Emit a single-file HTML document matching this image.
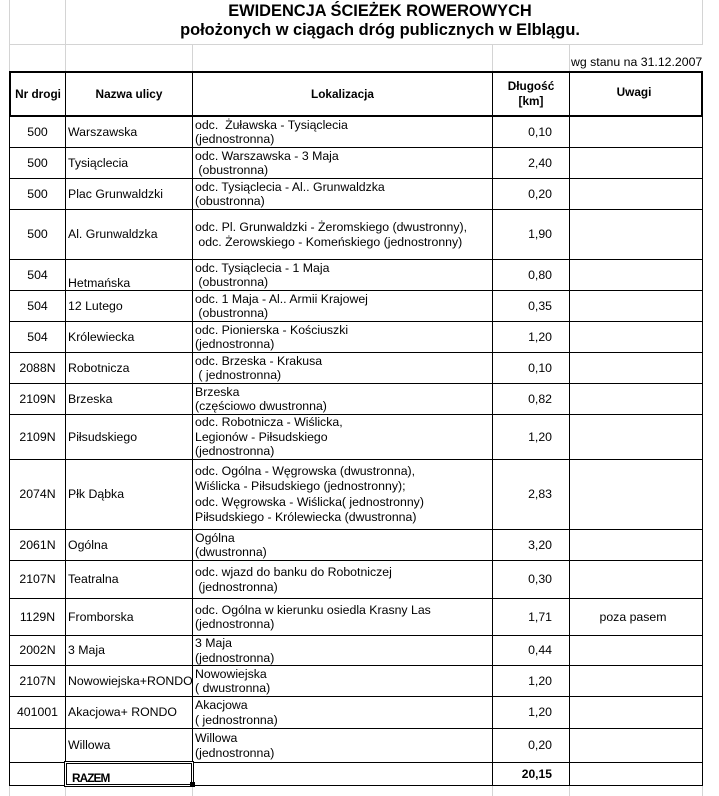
<!DOCTYPE html>
<html><head><meta charset="utf-8">
<style>
html,body{margin:0;padding:0;background:#fff;}
body{width:719px;height:796px;position:relative;overflow:hidden;font-family:"Liberation Sans",Arial,sans-serif;color:#000;}
.g{position:absolute;background:#d4d4d4;}
.k{position:absolute;background:#000;}
.t{position:absolute;white-space:pre;font-weight:bold;font-size:16.4px;line-height:19px;text-align:center;}
.r{position:absolute;left:0;width:719px;}
.r>div{position:absolute;top:0;bottom:0;display:flex;align-items:center;overflow:hidden;white-space:pre;font-size:12.3px;line-height:14.5px;}
.n{left:10px;width:55px;justify-content:center;}
.s{left:66px;width:124px;padding-left:2px;}
.l{left:193px;width:297px;padding-left:2px;}
.d{left:493px;width:59px;justify-content:flex-end;}
.u{left:570px;width:126px;justify-content:center;}
.h>div{font-weight:bold;font-size:11.8px;text-align:center;line-height:15px;}
</style></head><body>

<!-- gray sheet gridlines -->
<div class="g" style="left:9px;top:0;width:1px;height:72px"></div>
<div class="g" style="left:65px;top:0;width:1px;height:72px"></div>
<div class="g" style="left:192px;top:44px;width:1px;height:28px"></div>
<div class="g" style="left:492px;top:44px;width:1px;height:28px"></div>
<div class="g" style="left:569px;top:44px;width:1px;height:28px"></div>
<div class="g" style="left:702px;top:0;width:1px;height:44px"></div>
<div class="g" style="left:9px;top:44px;width:694px;height:1px"></div>
<div class="g" style="left:9px;top:786px;width:1px;height:10px"></div>
<div class="g" style="left:65px;top:786px;width:1px;height:10px"></div>
<div class="g" style="left:192px;top:786px;width:1px;height:10px"></div>
<div class="g" style="left:492px;top:786px;width:1px;height:10px"></div>
<div class="g" style="left:569px;top:786px;width:1px;height:10px"></div>
<div class="g" style="left:702px;top:786px;width:1px;height:10px"></div>

<!-- titles -->
<div class="t" style="left:65px;width:630px;top:2px">EWIDENCJA ŚCIEŻEK ROWEROWYCH</div>
<div class="t" style="left:65px;width:630px;top:21px">położonych w ciągach dróg publicznych w Elblągu.</div>
<div style="position:absolute;left:571px;top:55px;font-size:12.3px;line-height:15px;white-space:pre">wg stanu na 31.12.2007</div>

<!-- header box lines -->
<div class="k" style="left:9px;top:71px;width:694px;height:2px"></div>
<div class="k" style="left:9px;top:115px;width:694px;height:2px"></div>
<div class="k" style="left:9px;top:71px;width:2px;height:46px"></div>
<div class="k" style="left:701px;top:71px;width:2px;height:46px"></div>
<!-- vertical lines -->
<div class="k" style="left:9px;top:117px;width:1px;height:669px"></div>
<div class="k" style="left:65px;top:71px;width:1px;height:715px"></div>
<div class="k" style="left:192px;top:71px;width:1px;height:715px"></div>
<div class="k" style="left:492px;top:71px;width:1px;height:715px"></div>
<div class="k" style="left:569px;top:71px;width:1px;height:715px"></div>
<div class="k" style="left:702px;top:117px;width:1px;height:669px"></div>
<!-- horizontal lines -->
<div class="k" style="left:9px;top:147px;width:694px;height:1px"></div>
<div class="k" style="left:9px;top:178px;width:694px;height:1px"></div>
<div class="k" style="left:9px;top:209px;width:694px;height:1px"></div>
<div class="k" style="left:9px;top:259px;width:694px;height:1px"></div>
<div class="k" style="left:9px;top:290px;width:694px;height:1px"></div>
<div class="k" style="left:9px;top:321px;width:694px;height:1px"></div>
<div class="k" style="left:9px;top:352px;width:694px;height:1px"></div>
<div class="k" style="left:9px;top:383px;width:694px;height:1px"></div>
<div class="k" style="left:9px;top:414px;width:694px;height:1px"></div>
<div class="k" style="left:9px;top:459px;width:694px;height:1px"></div>
<div class="k" style="left:9px;top:529px;width:694px;height:1px"></div>
<div class="k" style="left:9px;top:560px;width:694px;height:1px"></div>
<div class="k" style="left:9px;top:598px;width:694px;height:1px"></div>
<div class="k" style="left:9px;top:635px;width:694px;height:1px"></div>
<div class="k" style="left:9px;top:665px;width:694px;height:1px"></div>
<div class="k" style="left:9px;top:696px;width:694px;height:1px"></div>
<div class="k" style="left:9px;top:728px;width:694px;height:1px"></div>
<div class="k" style="left:9px;top:762px;width:694px;height:1px"></div>
<div class="k" style="left:9px;top:785px;width:694px;height:1px"></div>

<!-- header -->
<div class="r h" style="top:73px;height:42px">
  <div class="n" style="left:11px;width:54px">Nr drogi</div>
  <div class="s" style="justify-content:center;padding-left:0;width:126px">Nazwa ulicy</div>
  <div class="l" style="justify-content:center;padding-left:0;width:299px">Lokalizacja</div>
  <div class="d" style="justify-content:center;width:76px">Długość<br>[km]</div>
  <div class="u" style="width:128px;top:-3px">Uwagi</div>
</div>

<div class="r" style="top:117px;height:30px"><div class="n">500</div><div class="s">Warszawska</div><div class="l">odc.  Żuławska - Tysiąclecia
(jednostronna)</div><div class="d">0,10</div></div>
<div class="r" style="top:148px;height:30px"><div class="n">500</div><div class="s">Tysiąclecia</div><div class="l">odc. Warszawska - 3 Maja
 (obustronna)</div><div class="d">2,40</div></div>
<div class="r" style="top:179px;height:30px"><div class="n">500</div><div class="s">Plac Grunwaldzki</div><div class="l">odc. Tysiąclecia - Al.. Grunwaldzka
(obustronna)</div><div class="d">0,20</div></div>
<div class="r" style="top:210px;height:49px"><div class="n">500</div><div class="s">Al. Grunwaldzka</div><div class="l">odc. Pl. Grunwaldzki - Żeromskiego (dwustronny),
 odc. Żerowskiego - Komeńskiego (jednostronny)</div><div class="d">1,90</div></div>
<div class="r" style="top:260px;height:30px"><div class="n">504</div><div class="s" style="align-items:flex-end">Hetmańska</div><div class="l">odc. Tysiąclecia - 1 Maja
 (obustronna)</div><div class="d">0,80</div></div>
<div class="r" style="top:291px;height:30px"><div class="n">504</div><div class="s">12 Lutego</div><div class="l">odc. 1 Maja - Al.. Armii Krajowej
 (obustronna)</div><div class="d">0,35</div></div>
<div class="r" style="top:322px;height:30px"><div class="n">504</div><div class="s">Królewiecka</div><div class="l">odc. Pionierska - Kościuszki
(jednostronna)</div><div class="d">1,20</div></div>
<div class="r" style="top:353px;height:30px"><div class="n">2088N</div><div class="s">Robotnicza</div><div class="l">odc. Brzeska - Krakusa
 ( jednostronna)</div><div class="d">0,10</div></div>
<div class="r" style="top:384px;height:30px"><div class="n">2109N</div><div class="s">Brzeska</div><div class="l">Brzeska
(częściowo dwustronna)</div><div class="d">0,82</div></div>
<div class="r" style="top:415px;height:44px"><div class="n">2109N</div><div class="s">Piłsudskiego</div><div class="l">odc. Robotnicza - Wiślicka,
Legionów - Piłsudskiego
(jednostronna)</div><div class="d">1,20</div></div>
<div class="r" style="top:460px;height:69px"><div class="n">2074N</div><div class="s">Płk Dąbka</div><div class="l" style="line-height:15.2px">odc. Ogólna - Węgrowska (dwustronna),
Wiślicka - Piłsudskiego (jednostronny);
odc. Węgrowska - Wiślicka( jednostronny)
Piłsudskiego - Królewiecka (dwustronna)</div><div class="d">2,83</div></div>
<div class="r" style="top:530px;height:30px"><div class="n">2061N</div><div class="s">Ogólna</div><div class="l">Ogólna
(dwustronna)</div><div class="d">3,20</div></div>
<div class="r" style="top:561px;height:37px"><div class="n">2107N</div><div class="s">Teatralna</div><div class="l">odc. wjazd do banku do Robotniczej
 (jednostronna)</div><div class="d">0,30</div></div>
<div class="r" style="top:599px;height:36px"><div class="n">1129N</div><div class="s">Fromborska</div><div class="l">odc. Ogólna w kierunku osiedla Krasny Las
(jednostronna)</div><div class="d">1,71</div><div class="u">poza pasem</div></div>
<div class="r" style="top:636px;height:29px"><div class="n">2002N</div><div class="s">3 Maja</div><div class="l">3 Maja
(jednostronna)</div><div class="d">0,44</div></div>
<div class="r" style="top:666px;height:30px"><div class="n">2107N</div><div class="s">Nowowiejska+RONDO</div><div class="l">Nowowiejska
( dwustronna)</div><div class="d">1,20</div></div>
<div class="r" style="top:697px;height:31px"><div class="n">401001</div><div class="s">Akacjowa+ RONDO</div><div class="l">Akacjowa
( jednostronna)</div><div class="d">1,20</div></div>
<div class="r" style="top:729px;height:33px"><div class="n"></div><div class="s">Willowa</div><div class="l">Willowa
(jednostronna)</div><div class="d">0,20</div></div>
<div class="r" style="top:763px;height:22px"><div class="s" style="align-items:flex-end;padding-left:6px;width:120px;font-weight:bold;font-size:11.8px;line-height:14px;letter-spacing:-0.9px">RAZEM</div><div class="d" style="font-weight:bold;font-size:12.1px">20,15</div></div>

<!-- selection box -->
<div style="position:absolute;left:64px;top:761px;width:130px;height:26px;box-sizing:border-box;border:1px solid #000;box-shadow:inset 0 0 0 1px #fff;">
  <div style="position:absolute;left:1px;top:1px;right:1px;bottom:1px;border:1px solid #000;"></div>
</div>
<div style="position:absolute;left:190px;top:782px;width:5px;height:5px;background:#000;"></div>

</body></html>
